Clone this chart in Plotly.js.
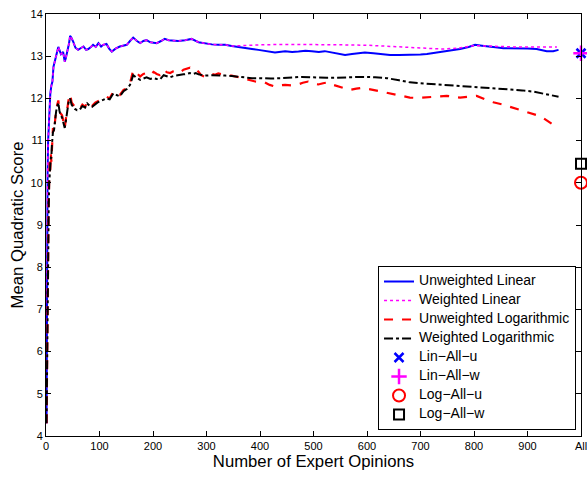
<!DOCTYPE html>
<html>
<head>
<meta charset="utf-8">
<script src="https://cdn.plot.ly/plotly-3.0.1.min.js"></script>
<style>html,body{margin:0;padding:0;background:#fff;}#chart{width:587px;height:477px;}</style>
</head>
<body>
<div id="chart"></div>
<script>
// Unweighted Linear
const ulinX = [1,2,3,4,5,6,7,8,10,12,14,17,20,23,25,28,32,35,37,40,43,45,47,51,55,60,65,70,75,79,84,88,93,98,103,107,113,118,123,130,138,145,151,157,163,170,176,182,188,195,207,215,222,229,235,247,260,272,285,297,310,322,335,347,360,372,385,397,410,428,447,460,472,485,497,510,521,540,559,572,584,596,612,630,643,660,680,700,712,728,743,760,774,790,802,815,824,840,855,870,886,900,917,928,936,948,958];
const ulinY = [4.3,8.5,10.3,11.0,11.4,11.7,11.95,12.1,12.3,12.4,12.75,12.9,13.1,13.22,13.15,13.05,13.1,12.87,12.95,13.1,13.3,13.48,13.45,13.34,13.2,13.15,13.2,13.23,13.15,13.17,13.22,13.27,13.22,13.31,13.23,13.27,13.29,13.18,13.11,13.18,13.23,13.25,13.27,13.36,13.44,13.36,13.31,13.36,13.38,13.33,13.31,13.36,13.41,13.38,13.37,13.36,13.38,13.41,13.33,13.30,13.28,13.27,13.27,13.24,13.21,13.20,13.17,13.15,13.13,13.09,13.12,13.10,13.11,13.13,13.12,13.10,13.12,13.08,13.03,13.05,13.07,13.09,13.07,13.05,13.03,13.03,13.03,13.04,13.05,13.08,13.12,13.15,13.17,13.22,13.27,13.25,13.23,13.21,13.19,13.19,13.19,13.18,13.17,13.15,13.12,13.12,13.15];
// Weighted Linear: follows the unweighted curve up to x=347, then its own values
const wlinSplit = 347;
const wlinTailX = [360,400,450,500,550,600,650,700,740,770,800,830,870,910,940,955];
const wlinTailY = [13.25,13.27,13.28,13.28,13.27,13.26,13.23,13.20,13.17,13.19,13.25,13.24,13.22,13.22,13.22,13.22];
// Unweighted Logarithmic
const ulogX = [1,2,3,4,5,6,7,8,9,10,11,12,13,15,17,19,21,23,25,27,30,33,35,37,39,42,45,48,51,54,58,63,68,73,77,82,86,92,96,101,107,113,119,126,132,138,145,151,157,163,170,176,182,188,195,201,207,213,220,226,232,238,245,251,257,263,269,275,280,285,290,297,303,310,316,322,335,347,360,372,385,391,400,409,418,428,437,447,458,469,480,490,500,509,518,528,537,546,557,568,580,590,604,618,633,649,665,680,696,712,730,749,762,774,790,805,820,836,852,867,885,905,918,930,940,951];
const ulogY = [4.3,6.2,7.8,8.8,9.5,10.1,10.5,10.3,10.7,10.5,11.0,10.9,11.3,11.2,11.6,11.75,11.85,11.95,11.75,11.65,11.6,11.45,11.3,11.5,11.7,11.95,12.1,11.9,11.85,11.8,11.75,11.75,11.85,11.8,11.92,11.85,11.82,11.9,11.92,11.96,12.0,12.04,12.0,12.16,12.1,12.08,12.2,12.24,12.35,12.67,12.6,12.52,12.58,12.6,12.55,12.63,12.58,12.55,12.68,12.62,12.6,12.64,12.66,12.62,12.68,12.71,12.73,12.68,12.7,12.63,12.55,12.51,12.55,12.58,12.56,12.59,12.55,12.54,12.5,12.46,12.42,12.40,12.39,12.38,12.32,12.28,12.31,12.32,12.31,12.32,12.37,12.40,12.36,12.33,12.36,12.38,12.32,12.28,12.24,12.2,12.23,12.25,12.22,12.18,12.14,12.1,12.06,12.02,12.01,12.02,12.04,12.06,12.04,12.02,12.04,12.06,11.98,11.91,11.86,11.8,11.74,11.65,11.6,11.53,11.45,11.35];
// Weighted Logarithmic
const wlogX = [1,2,3,4,5,6,7,8,9,10,11,12,13,15,17,19,21,23,25,27,30,33,35,37,39,42,45,48,51,54,58,63,68,73,77,82,86,92,96,101,107,113,119,126,132,138,145,151,157,163,170,176,182,188,195,201,207,213,220,226,232,238,245,251,257,263,269,275,280,285,290,297,310,322,335,347,360,372,385,400,420,441,460,478,495,509,525,540,560,578,593,615,637,660,680,710,743,775,805,835,867,890,911,935,958];
const wlogY = [4.3,6.0,7.6,8.7,9.4,10.0,10.4,10.4,10.6,10.6,10.9,11.0,11.2,11.25,11.55,11.7,11.8,11.9,11.72,11.6,11.55,11.4,11.3,11.45,11.65,11.9,12.0,11.85,11.8,11.75,11.72,11.73,11.82,11.78,11.88,11.82,11.8,11.87,11.9,11.93,11.97,12.0,11.98,12.12,12.08,12.05,12.17,12.22,12.32,12.55,12.48,12.44,12.47,12.5,12.46,12.48,12.46,12.45,12.55,12.52,12.5,12.53,12.55,12.55,12.57,12.58,12.6,12.58,12.6,12.57,12.55,12.54,12.55,12.55,12.54,12.53,12.51,12.49,12.48,12.48,12.47,12.48,12.5,12.51,12.5,12.49,12.49,12.49,12.5,12.51,12.51,12.5,12.48,12.43,12.38,12.35,12.32,12.29,12.27,12.25,12.22,12.19,12.16,12.1,12.04];
// "All" pooled results
const allX = 1000;
const linAllU = 13.07;
const linAllW = 13.07;
const logAllU = 10.0;
const logAllW = 10.45;
// Axis ticks
const xTickVals = [0,100,200,300,400,500,600,700,800,900,1000];
const xTickText = ['0','100','200','300','400','500','600','700','800','900','All'];
const yTickVals = [4,5,6,7,8,9,10,11,12,13,14];
const seriesNames = ['Unweighted Linear','Weighted Linear','Unweighted Logarithmic','Weighted Logarithmic',
                     'Lin\u2212All\u2212u','Lin\u2212All\u2212w','Log\u2212All\u2212u','Log\u2212All\u2212w'];

const wlinX = [], wlinY = [];
ulinX.forEach((x,i)=>{ if (x <= wlinSplit) { wlinX.push(x); wlinY.push(ulinY[i]); } });
wlinTailX.forEach((x,i)=>{ wlinX.push(x); wlinY.push(wlinTailY[i]); });

const FONT = 'Arial, "Liberation Sans", Helvetica, sans-serif';
const nm = s => '<span style="font-size:14px">' + s + '</span>';
const traces = [
  {x: ulinX, y: ulinY, type:'scatter', mode:'lines', name:nm(seriesNames[0]), line:{color:'#0000ff', width:2}},
  {x: wlinX, y: wlinY, type:'scatter', mode:'lines', name:nm(seriesNames[1]), line:{color:'#ff00ff', width:1.5, dash:'dot'}},
  {x: ulogX, y: ulogY, type:'scatter', mode:'lines', name:nm(seriesNames[2]), line:{color:'#ff0000', width:2.2, dash:'dash'}},
  {x: wlogX, y: wlogY, type:'scatter', mode:'lines', name:nm(seriesNames[3]), line:{color:'#000000', width:2, dash:'dashdot'}},
  {x:[allX], y:[linAllU], type:'scatter', mode:'markers', name:nm(seriesNames[4]), cliponaxis:false,
   marker:{symbol:'x-thin', size:9, color:'#0000ff', line:{color:'#0000ff', width:2.5}}},
  {x:[allX], y:[linAllW], type:'scatter', mode:'markers', name:nm(seriesNames[5]), cliponaxis:false,
   marker:{symbol:'cross-thin', size:11, color:'#ff00ff', line:{color:'#ff00ff', width:2.5}}},
  {x:[allX], y:[logAllU], type:'scatter', mode:'markers', name:nm(seriesNames[6]), cliponaxis:false,
   marker:{symbol:'circle-open', size:12, color:'#ff0000', line:{color:'#ff0000', width:2}}},
  {x:[allX], y:[logAllW], type:'scatter', mode:'markers', name:nm(seriesNames[7]), cliponaxis:false,
   marker:{symbol:'square-open', size:10, color:'#000000', line:{color:'#000000', width:2}}}
];

const layout = {
  width:587, height:477,
  margin:{l:46, r:6, t:14, b:41},
  paper_bgcolor:'#fff', plot_bgcolor:'#fff',
  font:{family:FONT, size:11, color:'#000'},
  showlegend:true,
  legend:{x:0.9907, y:0.0142, xanchor:'right', yanchor:'bottom', bgcolor:'#fff', bordercolor:'#000', borderwidth:1,
          font:{family:FONT, size:10, color:'#000'}, itemwidth:30, tracegroupgap:0},
  xaxis:{range:[0,1000], tickvals:xTickVals, ticktext:xTickText, ticks:'inside', ticklen:5, tickcolor:'#000',
         showline:true, linecolor:'#000', linewidth:1, mirror:'ticks', showgrid:false, zeroline:false,
         ticklabeloverflow:'allow',
         tickfont:{family:FONT, size:11}, title:{text:'Number of Expert Opinions', font:{family:FONT, size:16.7}, standoff:3}},
  yaxis:{range:[4,14], tickvals:yTickVals, ticks:'inside', ticklen:5, tickcolor:'#000',
         showline:true, linecolor:'#000', linewidth:1, mirror:'ticks', showgrid:false, zeroline:false,
         tickfont:{family:FONT, size:11}, title:{text:'Mean Quadratic Score', font:{family:FONT, size:16.7}, standoff:2}}
};

Plotly.newPlot('chart', traces, layout, {displayModeBar:false, staticPlot:true});
</script>
</body>
</html>
